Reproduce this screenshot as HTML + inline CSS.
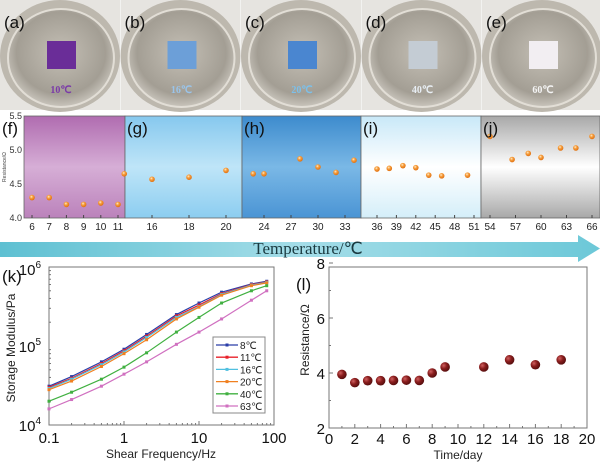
<!DOCTYPE html>
<html><head><meta charset="utf-8"><style>
body{margin:0;background:#fff;}
svg{display:block;font-family:"Liberation Sans",sans-serif;}
</style></head><body>
<svg id="fig" width="600" height="468" viewBox="0 0 600 468">
<defs>
<radialGradient id="dish" cx="50%" cy="45%" r="60%"><stop offset="0" stop-color="#c4bfb5"/><stop offset="0.7" stop-color="#a39e94"/><stop offset="1" stop-color="#d8d4cc"/></radialGradient>
<linearGradient id="gf" x1="0" y1="0" x2="0" y2="1"><stop offset="0" stop-color="#b06cb0"/><stop offset="0.5" stop-color="#d6aed6"/><stop offset="1" stop-color="#bb82bb"/></linearGradient>
<linearGradient id="gg" x1="0" y1="0" x2="0" y2="1"><stop offset="0" stop-color="#86c8ee"/><stop offset="0.5" stop-color="#bfe5f8"/><stop offset="1" stop-color="#8ccdf0"/></linearGradient>
<linearGradient id="gh" x1="0" y1="0" x2="0" y2="1"><stop offset="0" stop-color="#3d8bcd"/><stop offset="0.5" stop-color="#7ab8e6"/><stop offset="1" stop-color="#4a94d4"/></linearGradient>
<linearGradient id="gi" x1="0" y1="0" x2="0" y2="1"><stop offset="0" stop-color="#c8e8f8"/><stop offset="0.5" stop-color="#ffffff"/><stop offset="1" stop-color="#d4eef9"/></linearGradient>
<linearGradient id="gj" x1="0" y1="0" x2="0" y2="1"><stop offset="0" stop-color="#a8a8a8"/><stop offset="0.5" stop-color="#ffffff"/><stop offset="1" stop-color="#a8a8a8"/></linearGradient>
<linearGradient id="arr" x1="0" y1="0" x2="1" y2="0"><stop offset="0" stop-color="#5ec0d2"/><stop offset="0.5" stop-color="#a4dde8"/><stop offset="1" stop-color="#6cc8d8"/></linearGradient>
<radialGradient id="ball" cx="35%" cy="35%" r="65%"><stop offset="0" stop-color="#d06060"/><stop offset="0.5" stop-color="#8a1e1e"/><stop offset="1" stop-color="#5a0f0f"/></radialGradient>
<radialGradient id="oball" cx="40%" cy="35%" r="65%"><stop offset="0" stop-color="#fff0d0"/><stop offset="0.4" stop-color="#f7a040"/><stop offset="1" stop-color="#e07010"/></radialGradient>
</defs>
<g id="photos"></g>
<g id="temp"></g>
<g>
<polygon points="0,242 578,242 578,235 600,248.5 578,262 578,257 0,257" fill="url(#arr)"/>
<text x="308" y="254" font-family="Liberation Serif,serif" font-size="17" text-anchor="middle" fill="#1a3a40">Temperature/℃</text>
</g>
<g id="kchart"></g>
<g id="lchart"></g>
</svg>
<script>
const NS="http://www.w3.org/2000/svg";
function mk(p,t,a){const e=document.createElementNS(NS,t);for(const k in a)e.setAttribute(k,a[k]);p.appendChild(e);return e;}

// ---- photos ----
const photoLabels=["(a)","(b)","(c)","(d)","(e)"];
const photoTemps=["10℃","16℃","20℃","40℃","60℃"];
const sampleColors=["#6a2d98","#6c9fd8","#4a86d0","#c4ccd4","#f2eef2"];
const tempColors=["#7a3aa8","#9ac4ea","#7cc0ea","#e8eef4","#f4f4f4"];
const ph=document.getElementById('photos');
photoLabels.forEach((lb,i)=>{
  const x0=i*120.5;
  const g=mk(ph,'g',{});
  
  
  mk(g,'rect',{x:x0,y:0,width:120,height:110,fill:'#e6e4e0'});
  mk(g,'ellipse',{cx:x0+60,cy:56,rx:60,ry:56,fill:'#bdb8ae'});
  mk(g,'ellipse',{cx:x0+61,cy:58,rx:53,ry:49,fill:'url(#dish)',stroke:'#e2ded6','stroke-width':2});
  mk(g,'rect',{x:x0+47,y:41,width:29,height:28,fill:sampleColors[i]});
  const t=mk(g,'text',{x:x0+61,y:93,'font-family':'Liberation Serif,serif','font-size':10,'font-weight':'bold','text-anchor':'middle',fill:tempColors[i]});t.textContent=photoTemps[i];
  
  const l=mk(g,'text',{x:x0+4,y:28,'font-size':17,fill:'#111'});l.textContent=lb;
  
});

// ---- temperature panels ----
const fT=[6,7,8,9,10,11], fR=[4.3,4.3,4.2,4.2,4.22,4.2];
const gT=[14.5,16,18,20], gR=[4.65,4.57,4.6,4.7];
const hT=[22.8,24,28,30,32,34], hR=[4.65,4.65,4.87,4.75,4.67,4.85];
const iT=[36,37.9,40,42,44,46,50], iR=[4.72,4.73,4.77,4.74,4.63,4.62,4.63];
const jT=[54,56.6,58.5,60,62.3,64.1,66], jR=[5.2,4.86,4.95,4.89,5.03,5.03,5.2];
const fTicks=[6,7,8,9,10,11], gTicks=[16,18,20], hTicks=[24,27,30,33], iTicks=[36,39,42,45,48,51], jTicks=[54,57,60,63,66];
const rTicks=[4.0,4.5,5.0,5.5];
const tp=document.getElementById('temp');
const yT=v=>218-(v-4.0)*68;
const panels=[
 {lb:'(f)',x0:24,x1:125,fill:'url(#gf)',T:fT,R:fR,ticks:fTicks,d0:6,p0:32,d1:11,p1:118},
 {lb:'(g)',x0:125,x1:242,fill:'url(#gg)',T:gT,R:gR,ticks:gTicks,d0:16,p0:152,d1:20,p1:226},
 {lb:'(h)',x0:242,x1:361,fill:'url(#gh)',T:hT,R:hR,ticks:hTicks,d0:24,p0:264,d1:33,p1:345},
 {lb:'(i)',x0:361,x1:481,fill:'url(#gi)',T:iT,R:iR,ticks:iTicks,d0:36,p0:377,d1:51,p1:474},
 {lb:'(j)',x0:481,x1:600,fill:'url(#gj)',T:jT,R:jR,ticks:jTicks,d0:54,p0:490,d1:66,p1:592}];
panels.forEach(P=>{
  const g=mk(tp,'g',{});
  
  
  const xs=v=>P.p0+(v-P.d0)*(P.p1-P.p0)/(P.d1-P.d0);
  mk(g,'rect',{x:P.x0,y:116,width:P.x1-P.x0,height:102,fill:P.fill,stroke:'#666','stroke-width':0.8});
  P.ticks.forEach(t=>{
    mk(g,'line',{x1:xs(t),x2:xs(t),y1:218,y2:215,stroke:'#444'});
    const tx=mk(g,'text',{x:xs(t),y:230,'font-size':10,'text-anchor':'middle',fill:'#222'});tx.textContent=t;
    
  });
  P.T.forEach((t,k)=>{
    const c=mk(g,'circle',{cx:xs(t),cy:yT(P.R[k]),r:2.8,fill:'url(#oball)'});
    
  });
  const l=mk(g,'text',{x:P.x0+(P.lb==='(f)'?-22:2),y:134,'font-size':17,fill:'#111'});l.textContent=P.lb;
  
});
rTicks.forEach(v=>{
  const t=mk(tp,'text',{x:22,y:yT(v)+3,'font-size':9,'text-anchor':'end',fill:'#333'});t.textContent=v.toFixed(1);
  
});
const ryl=mk(tp,'text',{x:6,y:167,'font-size':5,'text-anchor':'middle',fill:'#444',transform:'rotate(-90 6 167)'});ryl.textContent='Resistance/Ω';


// ---- storage modulus chart ----
const freqs=[0.1,0.2,0.5,1,2,5,10,20,50,80];
const seriesNames=["8℃","11℃","16℃","20℃","40℃","63℃"];
const s8=[3.1e4,4.1e4,6.3e4,9.1e4,1.4e5,2.5e5,3.5e5,4.8e5,6.1e5,6.6e5];
const s11=[3.0e4,3.9e4,6.0e4,8.7e4,1.33e5,2.4e5,3.3e5,4.6e5,6.0e5,6.5e5];
const s16=[2.9e4,3.8e4,5.8e4,8.4e4,1.28e5,2.3e5,3.15e5,4.5e5,5.9e5,6.4e5];
const s20=[2.8e4,3.6e4,5.5e4,8.0e4,1.2e5,2.2e5,3.1e5,4.4e5,5.8e5,6.3e5];
const s40=[2.0e4,2.6e4,3.8e4,5.4e4,8.2e4,1.5e5,2.3e5,3.5e5,5.0e5,5.8e5];
const s63=[1.6e4,2.1e4,3.1e4,4.4e4,6.3e4,1.05e5,1.5e5,2.2e5,3.8e5,5.0e5];
const kColors=["#2a3ea8","#e8202a","#50c0e0","#f08020","#40b040","#d070c0"];
const kx=f=>49+(Math.log10(f)+1)*75;
const ky=v=>425-(Math.log10(v)-4)*79;
const K=document.getElementById('kchart');
mk(K,'rect',{x:49,y:267,width:225,height:158,fill:'none',stroke:'#777','stroke-width':1});
[0.1,1,10,100].forEach(d=>{
  mk(K,'line',{x1:kx(d),x2:kx(d),y1:425,y2:421,stroke:'#777'});
  const t=mk(K,'text',{x:kx(d),y:443,'font-size':15,'text-anchor':'middle',fill:'#111'});t.textContent=d;
  
  if(d<100)for(let m=2;m<10;m++)mk(K,'line',{x1:kx(d*m),x2:kx(d*m),y1:425,y2:423,stroke:'#777'});
});
[[1e4,'4'],[1e5,'5'],[1e6,'6']].forEach(([v,e])=>{
  const t=mk(K,'text',{x:41,y:ky(v)+(e==='6'?8:6),'font-size':15,'text-anchor':'end',fill:'#111'});
  
  t.textContent='10';const s=mk(t,'tspan',{dy:-7,'font-size':10});s.textContent=e;
  if(v<1e6)for(let m=2;m<10;m++)mk(K,'line',{x1:49,x2:51,y1:ky(v*m),y2:ky(v*m),stroke:'#777'});
});
const kl=mk(K,'text',{x:2,y:282,'font-size':17,fill:'#111'});kl.textContent='(k)';

const kyt=mk(K,'text',{x:15,y:348,'font-size':12,'text-anchor':'middle',fill:'#222',transform:'rotate(-90 15 348)'});kyt.textContent='Storage Modulus/Pa';

const kxt=mk(K,'text',{x:161,y:458,'font-size':12,'text-anchor':'middle',fill:'#222'});kxt.textContent='Shear Frequency/Hz';

[s8,s11,s16,s20,s40,s63].forEach((s,i)=>{
  const g=mk(K,'g',{});
  
  mk(g,'polyline',{points:freqs.map((f,k)=>kx(f)+','+ky(s[k])).join(' '),fill:'none',stroke:kColors[i],'stroke-width':1.2});
  freqs.forEach((f,k)=>{const m=mk(g,'rect',{x:kx(f)-1.5,y:ky(s[k])-1.5,width:3,height:3,fill:kColors[i]});
    });
});
const lg=mk(K,'g',{});

mk(lg,'rect',{x:213,y:337,width:52,height:76,fill:'#fff',stroke:'#888'});
seriesNames.forEach((n,i)=>{
  const y=345+i*12.2;
  const e=mk(lg,'g',{});
  
  mk(e,'line',{x1:216,x2:238,y1:y,y2:y,stroke:kColors[i],'stroke-width':1.3});
  mk(e,'rect',{x:225.5,y:y-1.5,width:3,height:3,fill:kColors[i]});
  const t=mk(e,'text',{x:240,y:y+4,'font-size':10,fill:'#222'});t.textContent=n;
});

// ---- resistance vs time ----
const days=[1,2,3,4,5,6,7,8,9,12,14,16,18];
const resist=[3.95,3.65,3.72,3.72,3.73,3.74,3.73,4.0,4.22,4.22,4.48,4.3,4.48];
const lx=d=>329+d*12.9;
const ly=v=>428-(v-2)*27.5;
const L=document.getElementById('lchart');
mk(L,'rect',{x:329,y:267,width:258,height:161,fill:'none',stroke:'#777'});
for(let d=0;d<=20;d+=2){
  mk(L,'line',{x1:lx(d),x2:lx(d),y1:428,y2:424,stroke:'#777'});
  if(d<20)mk(L,'line',{x1:lx(d+1),x2:lx(d+1),y1:428,y2:426,stroke:'#777'});
  const t=mk(L,'text',{x:lx(d),y:444,'font-size':15,'text-anchor':'middle',fill:'#111'});t.textContent=d;
  
}
[2,4,6,8].forEach(v=>{
  mk(L,'line',{x1:329,x2:333,y1:ly(v),y2:ly(v),stroke:'#777'});
  if(v<8)mk(L,'line',{x1:329,x2:331,y1:ly(v+1),y2:ly(v+1),stroke:'#777'});
  const t=mk(L,'text',{x:325,y:ly(v)+6,'font-size':15,'text-anchor':'end',fill:'#111'});t.textContent=v;
  
});
const ll=mk(L,'text',{x:296,y:290,'font-size':17,fill:'#111'});ll.textContent='(l)';

const lyt=mk(L,'text',{x:309,y:340,'font-size':12,'text-anchor':'middle',fill:'#222',transform:'rotate(-90 309 340)'});lyt.textContent='Resistance/Ω';

const lxt=mk(L,'text',{x:458,y:459,'font-size':12,'text-anchor':'middle',fill:'#222'});lxt.textContent='Time/day';

days.forEach((d,k)=>{
  const c=mk(L,'circle',{cx:lx(d),cy:ly(resist[k]),r:4.8,fill:'url(#ball)'});
  
});
</script>
</body></html>
